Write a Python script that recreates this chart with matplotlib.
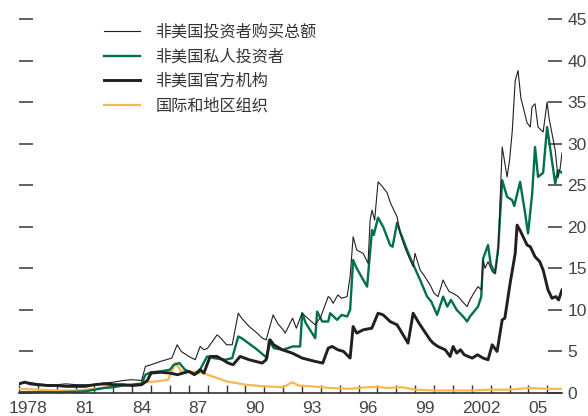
import matplotlib
matplotlib.use("Agg")
import matplotlib.pyplot as plt
from matplotlib.ticker import FixedLocator, NullFormatter

plt.rcParams['font.family'] = ['Noto Sans CJK SC', 'DejaVu Sans']

# ---- data (billions) ----
total_years = [1978.0, 1978.5, 1979.0, 1979.5, 1980.0, 1980.5, 1981.0, 1981.5, 1982.0, 1982.5,
               1983.0, 1983.5, 1984.0, 1984.5, 1984.7, 1985.0, 1985.5, 1986.1, 1986.38, 1986.6,
               1987.0, 1987.34, 1987.6, 1987.8, 1988.0, 1988.5, 1988.7, 1989.0, 1989.3, 1989.62,
               1989.8, 1990.2, 1990.52, 1990.9, 1991.1, 1991.47, 1991.7, 1992.0, 1992.11, 1992.5,
               1992.7, 1993.0, 1993.3, 1993.7, 1994.0, 1994.39, 1994.5, 1994.65, 1994.9, 1995.1,
               1995.39, 1995.55, 1995.71, 1995.9, 1996.24, 1996.5, 1996.61, 1996.71, 1996.85, 1997.03,
               1997.2, 1997.51, 1997.7, 1998.04, 1998.2, 1998.45, 1998.73, 1998.89, 1998.99, 1999.26,
               1999.45, 1999.79, 2000.0, 2000.21, 2000.48, 2000.6, 2000.8, 2001.0, 2001.28, 2001.5,
               2001.75, 2001.9, 2002.1, 2002.33, 2002.5, 2002.6, 2002.7, 2002.86, 2003.08, 2003.23,
               2003.4, 2003.5, 2003.61, 2003.87, 2004.0, 2004.14, 2004.3, 2004.45, 2004.6, 2004.93,
               2005.1, 2005.19, 2005.35, 2005.51, 2005.78, 2005.99, 2006.1, 2006.42, 2006.57, 2006.68,
               2006.78]
total_values = [1.2, 1.3, 1.1, 1.0, 1.0, 1.1, 1.0, 1.0, 1.0, 1.2,
                1.3, 1.5, 1.6, 1.5, 3.2, 3.4, 3.8, 4.2, 5.8, 5.0,
                4.4, 4.0, 5.6, 5.2, 5.4, 7.0, 6.6, 5.8, 5.8, 9.6,
                9.0, 8.0, 7.4, 6.6, 6.4, 9.4, 8.4, 7.6, 7.2, 9.0,
                7.8, 9.6, 9.0, 8.2, 9.2, 11.6, 11.4, 10.8, 11.8, 11.4,
                11.6, 14.0, 18.8, 17.2, 16.8, 15.6, 20.8, 22.0, 20.8, 25.4,
                25.0, 24.1, 22.8, 21.2, 19.2, 17.5, 16.0, 15.2, 16.8, 14.8,
                14.2, 13.0, 12.0, 11.6, 13.6, 13.0, 12.2, 12.0, 11.6, 11.0,
                10.4, 11.2, 12.0, 12.8, 12.4, 16.0, 15.0, 15.8, 14.6, 14.4,
                17.0, 23.2, 29.6, 26.0, 28.0, 31.4, 37.6, 38.8, 35.5, 32.5,
                32.0, 34.4, 34.8, 32.0, 31.4, 35.0, 33.0, 29.2, 25.9, 27.0,
                28.9]

private_years = [1978.0, 1979.0, 1980.0, 1981.0, 1981.5, 1982.0, 1982.5, 1983.0, 1983.5, 1984.0,
                 1984.5, 1984.7, 1985.0, 1985.5, 1986.0, 1986.2, 1986.5, 1986.8, 1987.3, 1987.5,
                 1987.97, 1988.3, 1988.93, 1989.3, 1989.62, 1989.8, 1990.52, 1991.05, 1991.15, 1991.25,
                 1991.5, 1992.0, 1992.5, 1992.9, 1993.01, 1993.2, 1993.7, 1993.8, 1994.07, 1994.39,
                 1994.49, 1994.86, 1995.1, 1995.39, 1995.55, 1995.71, 1995.9, 1996.45, 1996.71, 1996.8,
                 1997.03, 1997.3, 1997.67, 1997.8, 1998.04, 1998.2, 1998.57, 1998.75, 1999.26, 1999.63,
                 1999.85, 2000.16, 2000.48, 2000.7, 2000.9, 2001.2, 2001.54, 2001.75, 2001.9, 2002.33,
                 2002.5, 2002.6, 2002.86, 2003.0, 2003.23, 2003.4, 2003.61, 2003.87, 2004.14, 2004.25,
                 2004.56, 2004.8, 2004.98, 2005.2, 2005.35, 2005.51, 2005.78, 2005.99, 2006.15, 2006.42,
                 2006.57, 2006.78]
private_values = [0.1, 0.1, 0.1, 0.15, 0.2, 0.4, 0.6, 0.7, 0.9, 1.0,
                  1.1, 2.2, 2.5, 2.6, 2.8, 3.4, 3.6, 2.8, 2.3, 2.4,
                  4.4, 4.2, 4.0, 4.2, 6.8, 6.6, 5.4, 4.4, 4.2, 6.4,
                  5.4, 5.2, 5.6, 5.6, 9.6, 8.4, 6.6, 9.8, 8.6, 8.6,
                  9.6, 8.8, 9.4, 9.2, 10.0, 16.0, 15.0, 12.8, 19.6, 19.0,
                  21.1, 20.0, 17.8, 17.6, 20.5, 19.4, 17.2, 16.2, 13.6, 11.6,
                  11.0, 9.4, 11.6, 10.4, 11.2, 10.0, 9.2, 8.6, 9.2, 10.4,
                  11.6, 16.2, 17.8, 15.5, 14.4, 17.5, 25.6, 23.6, 23.2, 22.5,
                  25.4, 22.0, 19.2, 24.0, 29.6, 26.0, 26.5, 32.0, 29.5, 25.2,
                  26.8, 26.5]

official_years = [1978.0, 1978.3, 1978.6, 1979.0, 1979.5, 1980.0, 1980.5, 1981.0, 1981.5, 1982.0,
                  1982.5, 1983.0, 1983.5, 1984.0, 1984.5, 1984.8, 1985.0, 1985.5, 1986.0, 1986.4,
                  1987.0, 1987.3, 1987.6, 1987.8, 1988.13, 1988.5, 1989.09, 1989.35, 1989.72, 1990.2,
                  1990.89, 1991.1, 1991.31, 1991.5, 1991.95, 1992.48, 1993.01, 1993.7, 1994.1, 1994.39,
                  1994.6, 1994.9, 1995.2, 1995.55, 1995.71, 1995.9, 1996.24, 1996.7, 1997.03, 1997.3,
                  1997.67, 1998.04, 1998.62, 1998.89, 1999.2, 1999.79, 1999.95, 2000.2, 2000.59, 2000.85,
                  2001.01, 2001.2, 2001.4, 2001.6, 2002.02, 2002.3, 2002.6, 2002.86, 2003.08, 2003.34,
                  2003.61, 2003.75, 2004.03, 2004.3, 2004.4, 2004.55, 2004.93, 2005.1, 2005.35, 2005.6,
                  2005.78, 2006.04, 2006.25, 2006.45, 2006.6, 2006.78]
official_values = [1.1, 1.3, 1.1, 1.0, 0.9, 0.9, 0.8, 0.8, 0.8, 1.0,
                   1.1, 1.0, 1.0, 0.9, 1.0, 1.5, 2.4, 2.5, 2.4, 2.2,
                   2.6, 2.2, 2.8, 2.4, 4.4, 4.4, 3.6, 3.4, 4.4, 4.0,
                   3.6, 4.0, 6.4, 5.8, 5.2, 4.8, 4.2, 3.8, 3.6, 5.4,
                   5.6, 5.2, 5.0, 4.2, 8.0, 7.2, 7.6, 7.8, 9.6, 9.4,
                   8.6, 8.2, 6.0, 9.6, 8.4, 6.4, 6.0, 5.6, 5.2, 4.4,
                   5.6, 4.8, 5.2, 4.6, 4.2, 4.6, 4.2, 4.0, 5.8, 5.0,
                   8.8, 9.0, 13.2, 16.8, 20.2, 19.6, 17.8, 17.6, 16.4, 15.8,
                   14.8, 12.4, 11.4, 11.6, 11.2, 12.4]

intl_years = [1978.0, 1979.0, 1980.0, 1981.0, 1982.0, 1983.0, 1984.0, 1984.7, 1985.3, 1985.9,
              1986.3, 1986.6, 1987.0, 1987.5, 1988.0, 1988.5, 1989.0, 1990.0, 1991.0, 1992.0,
              1992.5, 1992.8, 1993.5, 1994.5, 1995.5, 1996.5, 1997.0, 1997.5, 1998.3, 1999.0,
              2000.0, 2001.0, 2002.0, 2003.0, 2004.0, 2005.0, 2006.0, 2006.78]
intl_values = [0.5, 0.4, 0.3, 0.3, 0.5, 0.8, 1.0, 1.3, 1.4, 1.6,
               3.6, 2.6, 2.5, 2.6, 2.2, 1.8, 1.4, 1.0, 0.8, 0.7,
               1.3, 0.9, 0.8, 0.6, 0.5, 0.7, 0.75, 0.6, 0.7, 0.4,
               0.3, 0.3, 0.3, 0.4, 0.4, 0.6, 0.5, 0.5]

series_labels = ['非美国投资者购买总额', '非美国私人投资者', '非美国官方机构', '国际和地区组织']
year_labels = ['1978', '81', '84', '87', '90', '93', '96', '99', '2002', '05']
label_years = [1978, 1981, 1984, 1987, 1990, 1993, 1996, 1999, 2002, 2005]
y_ticks = [0, 5, 10, 15, 20, 25, 30, 35, 40, 45]

# ---- figure ----
fig = plt.figure(figsize=(5.88, 4.16), dpi=100)
ax = fig.add_axes([19/588, 1 - 393/416, (562 - 19)/588, (393 - 19)/416])

GREEN = '#00704a'
ORANGE = '#f8b84e'
BLACK = '#231f20'

l4, = ax.plot(intl_years, intl_values, color=ORANGE, lw=1.6, solid_joinstyle='round')
l2, = ax.plot(private_years, private_values, color=GREEN, lw=1.7, solid_joinstyle='round')
l3, = ax.plot(official_years, official_values, color=BLACK, lw=2.1, solid_joinstyle='round')
l1, = ax.plot(total_years, total_values, color=BLACK, lw=0.8, solid_joinstyle='round')

ax.set_xlim(1978.0, 2006.78)
ax.set_ylim(0, 45)

for s in ['top', 'left', 'right']:
    ax.spines[s].set_visible(False)
ax.spines['bottom'].set_color('#333333')
ax.spines['bottom'].set_linewidth(1.2)

# x ticks: yearly marks inside, labels at mid-year
ax.xaxis.set_minor_locator(FixedLocator(list(range(1978, 2007))))
ax.xaxis.set_major_locator(FixedLocator([y + 0.5 for y in label_years]))
ax.set_xticklabels(year_labels, family='Liberation Sans', fontsize=12.5, color='#444444')
ax.tick_params(axis='x', which='major', length=0, pad=6)
ax.tick_params(axis='x', which='minor', direction='in', length=6, width=1.0, color='#333333')
ax.xaxis.set_minor_formatter(NullFormatter())

# y ticks: inside on both sides, labels on right only
ax.set_yticks(y_ticks)
ax.tick_params(axis='y', which='major', direction='in', length=10, width=1.3, color='#555555',
               left=True, right=True, labelleft=False, labelright=True, pad=4)
for t in ax.get_yticklabels():
    t.set_family('Liberation Sans')
    t.set_fontsize(12.5)
    t.set_color('#444444')

leg = fig.legend([l1, l2, l3, l4], series_labels, loc='upper left',
                 bbox_to_anchor=(104/588, 1 - 24/416), frameon=False,
                 prop={'family': ['Noto Sans CJK SC', 'DejaVu Sans'], 'size': 11.6},
                 handlelength=2.25, handletextpad=0.95, labelspacing=0.46, borderpad=0,
                 borderaxespad=0)
for t in leg.get_texts():
    t.set_color('#333333')

fig.savefig('out.png', dpi=100)
